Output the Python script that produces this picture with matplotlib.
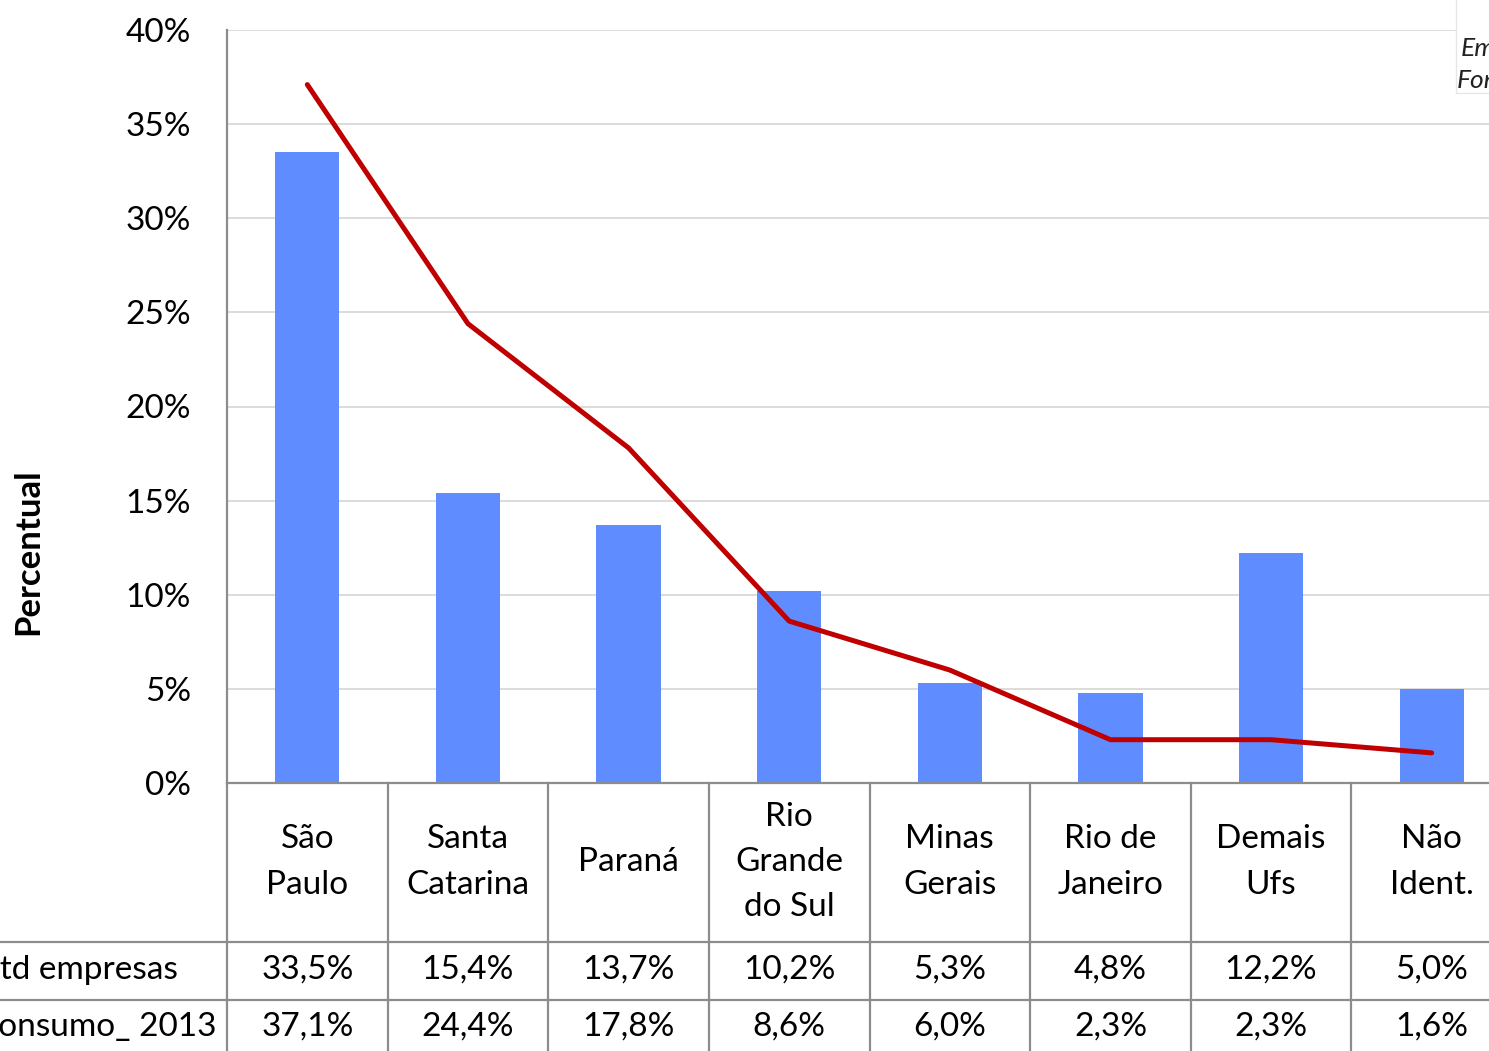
import matplotlib
matplotlib.use("Agg")
import matplotlib.pyplot as plt
from matplotlib.patches import Rectangle

plt.rcParams['font.family'] = ['Lato', 'DejaVu Sans']

categories = ["São\nPaulo", "Santa\nCatarina", "Paraná", "Rio\nGrande\ndo Sul",
              "Minas\nGerais", "Rio de\nJaneiro", "Demais\nUfs", "Não\nIdent."]
qtd_empresas = [33.5, 15.4, 13.7, 10.2, 5.3, 4.8, 12.2, 5.0]
consumo_2013 = [37.1, 24.4, 17.8, 8.6, 6.0, 2.3, 2.3, 1.6]
row_labels = ["Qtd empresas", "Consumo_ 2013"]
yticks = [0, 5, 10, 15, 20, 25, 30, 35, 40]

W, H = 1489, 1051
fig = plt.figure(figsize=(W / 100, H / 100), dpi=100)

FS = 24

x_left, x_right = 227, 1512
y_top, y_zero = 30, 783
ax = fig.add_axes([x_left / W, 1 - y_zero / H, (x_right - x_left) / W, (y_zero - y_top) / H])

n = len(categories)
xs = list(range(n))
ax.bar(xs, qtd_empresas, width=0.4, color="#5f8dff", zorder=2)
ax.plot(xs, consumo_2013, color="#c00000", lw=3.6, zorder=3, solid_capstyle='round')

ax.set_xlim(-0.5, n - 0.5)
ax.set_ylim(0, 40)
ax.set_yticks(yticks)
ax.set_yticklabels([f"{v}%" for v in yticks], fontsize=FS)
ax.tick_params(axis='y', length=0, pad=26)
ax.set_xticks([])
ax.grid(axis='y', color="#d9d9d9", lw=1.3, zorder=0)
for s in ['top', 'right']:
    ax.spines[s].set_visible(False)
ax.spines['left'].set_color("#8c8c8c")
ax.spines['left'].set_linewidth(1.6)
ax.spines['bottom'].set_color("#8c8c8c")
ax.spines['bottom'].set_linewidth(1.6)

fig.text(28 / W, 1 - 552 / H, "Percentual", rotation=90, fontsize=25, fontweight='bold',
         ha='center', va='center')

# data table
tab = fig.add_axes([x_left / W, 0, (x_right - x_left) / W, (H - y_zero) / H])
tab.set_xlim(-0.5, n - 0.5)
tab.set_ylim(H, y_zero)
tab.axis('off')
gc = "#8c8c8c"
for k in range(n + 1):
    tab.plot([k - 0.5, k - 0.5], [y_zero, H + 10], color=gc, lw=1.6, clip_on=False)
for yy in [942, 1000]:
    tab.plot([-0.5 - 227 / 160.6, n - 0.5], [yy, yy], color=gc, lw=1.6, clip_on=False)

for i, c in enumerate(categories):
    tab.text(i, 862, c, ha='center', va='center', fontsize=FS, linespacing=1.63)
    tab.text(i, 970, f"{qtd_empresas[i]:.1f}%".replace('.', ','), ha='center', va='center', fontsize=FS)
    tab.text(i, 1027, f"{consumo_2013[i]:.1f}%".replace('.', ','), ha='center', va='center', fontsize=FS)

fig.text(-27 / W, 1 - 970 / H, row_labels[0], ha='left', va='center', fontsize=FS)
fig.text(-24 / W, 1 - 1027 / H, row_labels[1], ha='left', va='center', fontsize=FS)

# overlay box top-right
box = Rectangle((1456 / W, 1 - 93 / H), 60 / W, 100 / H, transform=fig.transFigure,
                facecolor="white", edgecolor="#e6e6e6", lw=1, zorder=10)
fig.add_artist(box)
fig.text(1461 / W, 1 - 49 / H, "Empresas", fontsize=19, style='italic', ha='left', va='center',
         color="#222222", zorder=11)
fig.text(1457 / W, 1 - 80 / H, "Fonte:", fontsize=19, style='italic', ha='left', va='center',
         color="#222222", zorder=11)

fig.savefig("out.png", dpi=100)
